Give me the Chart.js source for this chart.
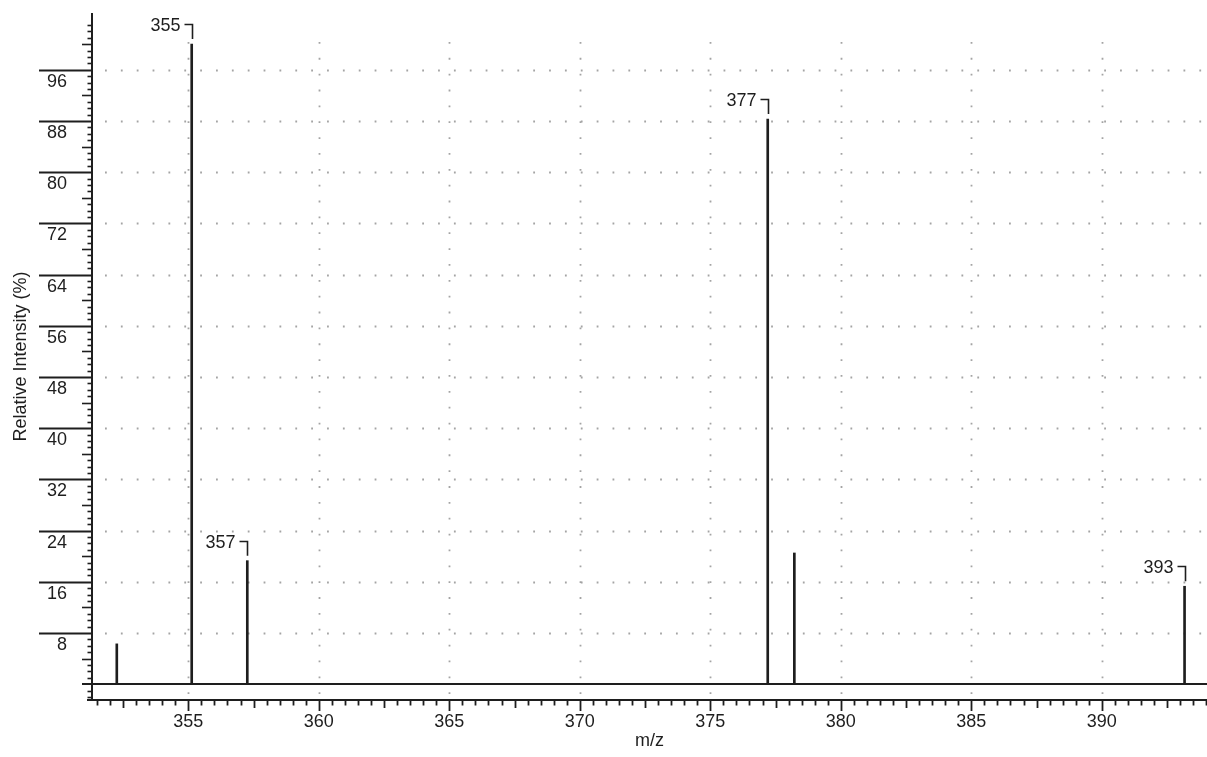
<!DOCTYPE html>
<html>
<head>
<meta charset="utf-8">
<title>Mass spectrum</title>
<script src="https://cdn.jsdelivr.net/npm/chart.js@4/dist/chart.umd.min.js"></script>
<style>
  html, body { margin: 0; padding: 0; background: #ffffff; }
  #wrap { width: 1207px; height: 757px; }
</style>
</head>
<body>
<div id="wrap"><canvas id="spectrum" width="1207" height="757"></canvas></div>
<script>
// Peak list: m/z positions and relative intensities (%)
const mzValues    = [352.26, 355.13, 357.26, 377.20, 378.22, 393.17];
const intensities = [6.3, 100, 19.3, 88.3, 20.5, 15.3];
// Peaks that carry an m/z annotation
const annotatedMz = [355.13, 357.26, 377.20, 393.17];

// Axis tick labels
const xTickLabels = [355, 360, 365, 370, 375, 380, 385, 390];
const yTickLabels = [8, 16, 24, 32, 40, 48, 56, 64, 72, 80, 88, 96];

// Axis ranges
const xRange = [351.31, 394.03];
const yRange = [-2.47, 104.86];

const FONT = 'Liberation Sans, Arial, Helvetica, sans-serif';
const FONT_SIZE = 18;
const INK = '#1e1e1e';
const GRID = '#a4a4a4';

// Frame, ticks and dotted grid drawn from the scales
const frame = {
  id: 'spectrumFrame',
  beforeDatasetsDraw(chart) {
    const { ctx, chartArea: a, scales: { x, y } } = chart;
    ctx.save();

    // dotted grid
    ctx.strokeStyle = GRID;
    ctx.lineWidth = 1.8;
    ctx.setLineDash([1.8, 14.06]);
    yTickLabels.forEach(v => {
      const py = Math.round(y.getPixelForValue(v)) + 0.5;
      ctx.beginPath();
      ctx.moveTo(a.left + 13, py);
      ctx.lineTo(a.right, py);
      ctx.stroke();
    });
    xTickLabels.forEach(v => {
      const px = Math.round(x.getPixelForValue(v)) + 0.5;
      ctx.beginPath();
      ctx.moveTo(px, a.top + 29);
      ctx.lineTo(px, a.bottom);
      ctx.stroke();
    });
    ctx.setLineDash([]);

    ctx.strokeStyle = INK;

    // y axis ticks: long at labelled values, medium every 4, short every 1
    for (let v = Math.ceil(yRange[0]); v <= 103; v++) {
      if (v === 0) continue;
      const py = Math.round(y.getPixelForValue(v)) + 0.5;
      let len;
      if (yTickLabels.includes(v)) { len = a.left - 39; ctx.lineWidth = 2; }
      else if (v % 4 === 0) { len = 10; ctx.lineWidth = 1.6; }
      else { len = 4.5; ctx.lineWidth = 1.6; }
      ctx.beginPath();
      ctx.moveTo(a.left - len, py);
      ctx.lineTo(a.left, py);
      ctx.stroke();
    }

    // x axis ticks: long every 5, medium every 2.5, short every 0.5
    ctx.lineWidth = 1.8;
    for (let k = Math.ceil(xRange[0] * 2); k <= Math.floor(xRange[1] * 2); k++) {
      const v = k / 2;
      const px = Math.round(x.getPixelForValue(v)) + 0.5;
      let len;
      if (k % 10 === 0) len = 11;
      else if (k % 5 === 0) len = 8;
      else len = 5.5;
      ctx.beginPath();
      ctx.moveTo(px, a.bottom);
      ctx.lineTo(px, a.bottom + len);
      ctx.stroke();
    }

    // axis lines and zero baseline
    ctx.lineWidth = 2;
    const y0 = Math.round(y.getPixelForValue(0));
    ctx.beginPath();
    ctx.moveTo(a.left - 10, y0);
    ctx.lineTo(a.right, y0);
    ctx.stroke();
    ctx.beginPath();
    ctx.moveTo(a.left, a.top);
    ctx.lineTo(a.left, a.bottom + 1);
    ctx.moveTo(a.left - 5, a.bottom);
    ctx.lineTo(a.right, a.bottom);
    ctx.stroke();

    ctx.restore();
  },
  afterDatasetsDraw(chart) {
    const { ctx, scales: { x, y } } = chart;
    ctx.save();
    ctx.strokeStyle = INK;
    ctx.fillStyle = INK;
    ctx.lineWidth = 1.6;
    ctx.font = FONT_SIZE + 'px ' + FONT;
    ctx.textAlign = 'right';
    ctx.textBaseline = 'middle';
    annotatedMz.forEach(mz => {
      const i = mzValues.indexOf(mz);
      const px = Math.round(x.getPixelForValue(mz)) + 0.5;
      const top = y.getPixelForValue(intensities[i]);
      const by = Math.round(top - 20) + 0.5;
      ctx.beginPath();
      ctx.moveTo(px - 8, by);
      ctx.lineTo(px, by);
      ctx.lineTo(px, top - 5);
      ctx.stroke();
      ctx.fillText(String(Math.round(mz)), px - 12, by + 2);
    });
    ctx.restore();
  }
};

new Chart(document.getElementById('spectrum'), {
  type: 'bar',
  data: {
    datasets: [{
      data: mzValues.map((m, i) => ({ x: m, y: intensities[i] })),
      backgroundColor: INK,
      borderWidth: 0,
      barThickness: 2,
      grouped: false
    }]
  },
  options: {
    responsive: false,
    animation: false,
    events: [],
    devicePixelRatio: 1,
    layout: { padding: { top: 13, right: 0, bottom: 0, left: 0 } },
    plugins: { legend: { display: false }, tooltip: { enabled: false } },
    scales: {
      x: {
        type: 'linear',
        position: 'bottom',
        offset: false,
        min: xRange[0],
        max: xRange[1],
        grid: { display: false, drawTicks: false, offset: false },
        border: { display: false },
        afterBuildTicks: s => { s.ticks = xTickLabels.map(v => ({ value: v })); },
        afterFit: s => { s.height = 57; s.paddingLeft = 0; s.paddingRight = 0; },
        ticks: {
          font: { family: FONT, size: FONT_SIZE },
          color: INK,
          padding: 11,
          maxRotation: 0,
          autoSkip: false,
          callback: v => String(v)
        },
        title: {
          display: true,
          text: 'm/z',
          font: { family: FONT, size: FONT_SIZE },
          color: INK,
          padding: { top: 0, bottom: 5 }
        }
      },
      y: {
        type: 'linear',
        position: 'left',
        min: yRange[0],
        max: yRange[1],
        grid: { display: false, drawTicks: false },
        border: { display: false },
        afterBuildTicks: s => { s.ticks = yTickLabels.map(v => ({ value: v })); },
        afterFit: s => { s.width = 92; s.paddingTop = 0; s.paddingBottom = 0; },
        ticks: {
          font: { family: FONT, size: FONT_SIZE },
          color: INK,
          padding: 25,
          labelOffset: 12,
          crossAlign: 'near',
          autoSkip: false,
          callback: v => String(v)
        },
        title: {
          display: true,
          text: 'Relative Intensity (%)',
          font: { family: FONT, size: FONT_SIZE },
          color: INK,
          padding: { top: 10, bottom: 0 }
        }
      }
    }
  },
  plugins: [frame]
});
</script>
</body>
</html>
